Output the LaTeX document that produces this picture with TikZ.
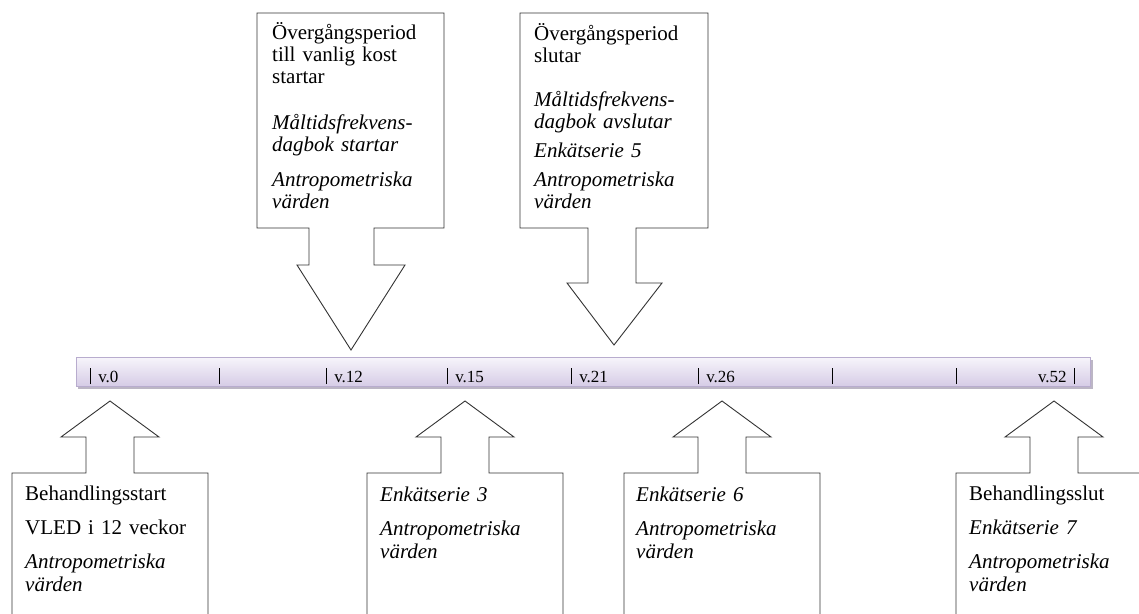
\documentclass[tikz,border=0pt]{standalone}
\usepackage{fontspec}
\setmainfont{Liberation Serif}
\usetikzlibrary{calc}
\definecolor{barlight}{RGB}{247,245,251}
\definecolor{bardark}{RGB}{214,204,230}
\definecolor{barline}{RGB}{184,172,206}
\definecolor{barshadow}{RGB}{160,150,172}

\newcommand{\tickbar}{\rule[-2pt]{1.1pt}{16pt}}

\begin{document}
\begin{tikzpicture}[x=1pt,y=-1pt,
  callout/.style={draw=black!80,line width=0.9pt,fill=white,line join=miter},
  toptext/.style={anchor=north west,inner sep=0pt,text width=180pt,align=left,font=\fontsize{21}{22}\selectfont},
  bottext/.style={anchor=north west,inner sep=0pt,text width=180pt,align=left,font=\fontsize{21}{23}\selectfont},
  weektext/.style={inner sep=0pt,font=\fontsize{17}{17}\selectfont}]
  \useasboundingbox (0,0) rectangle (1139,613);

  % time line
  \fill[barshadow!70] (78,360) rectangle (1093,389);
  \shade[top color=barlight,bottom color=bardark,draw=barline,line width=0.8pt] (76,357) rectangle (1090,386);
  \foreach \x/\lab/\n in {90/v.0/w0,447/v.15/w15,326/v.12/w12,571/v.21/w21,698/v.26/w26}{
    \node[weektext,anchor=base west] (\n) at (\x,382) {\tickbar\hspace{7pt}\lab};
  }
  \foreach \x/\n in {219/e1,832/e2,956/e3}{
    \node[weektext,anchor=base west] (\n) at (\x,382) {\tickbar};
  }
  \node[weektext,anchor=base east] (w52) at (1075,382) {v.52\hspace{7pt}\tickbar};

  % callouts above
  \foreach \l/\r/\sl/\sr/\hl/\hr/\tx/\hb/\ty in {257/444/309/374/297/405/351/265/350,520/708/588/636/567/662/614/283/345}{
    \draw[callout] (\l,13) -- (\r,13) -- (\r,228) -- (\sr,228) -- (\sr,\hb) -- (\hr,\hb)
      -- (\tx,\ty) -- (\hl,\hb) -- (\sl,\hb) -- (\sl,228) -- (\l,228) -- cycle;
  }
  \node[toptext] (overgang) at (272,19) {\rule{0pt}{20pt}Övergångsperiod\\ till vanlig kost\\ startar\\[24pt]
    \textit{Måltidsfrekvens-}\\ \textit{dagbok startar}\\[13pt] \textit{Antropometriska}\\ \textit{värden}};
  \node[toptext] (slut) at (534,20) {\rule{0pt}{20pt}Övergångsperiod\\ slutar\\[22pt]
    \textit{Måltidsfrekvens-}\\ \textit{dagbok avslutar}\\[7pt] \textit{Enkätserie 5}\\[7pt]
    \textit{Antropometriska}\\ \textit{värden}};

  % callouts below
  \foreach \c in {110,465,722,1054}{
    \draw[callout] ({\c-98},614) -- ({\c-98},473) -- ({\c-24},473) -- ({\c-24},437) -- ({\c-49},437)
      -- (\c,401) -- ({\c+49},437) -- ({\c+24},437) -- ({\c+24},473) -- ({\c+98},473) -- ({\c+98},614);
  }
  \node[bottext] (start) at (25,480) {\rule{0pt}{20pt}Behandlingsstart\\[11pt] VLED i 12 veckor\\[11pt]
    \textit{Antropometriska}\\ \textit{värden}};
  \node[bottext] (enk3) at (380,481) {\rule{0pt}{20pt}\textit{Enkätserie 3}\\[11pt]
    \textit{Antropometriska}\\ \textit{värden}};
  \node[bottext] (enk6) at (636,481) {\rule{0pt}{20pt}\textit{Enkätserie 6}\\[11pt]
    \textit{Antropometriska}\\ \textit{värden}};
  \node[bottext] (behslut) at (969,480) {\rule{0pt}{20pt}Behandlingsslut\\[11pt] \textit{Enkätserie 7}\\[11pt]
    \textit{Antropometriska}\\ \textit{värden}};
\end{tikzpicture}
\end{document}
